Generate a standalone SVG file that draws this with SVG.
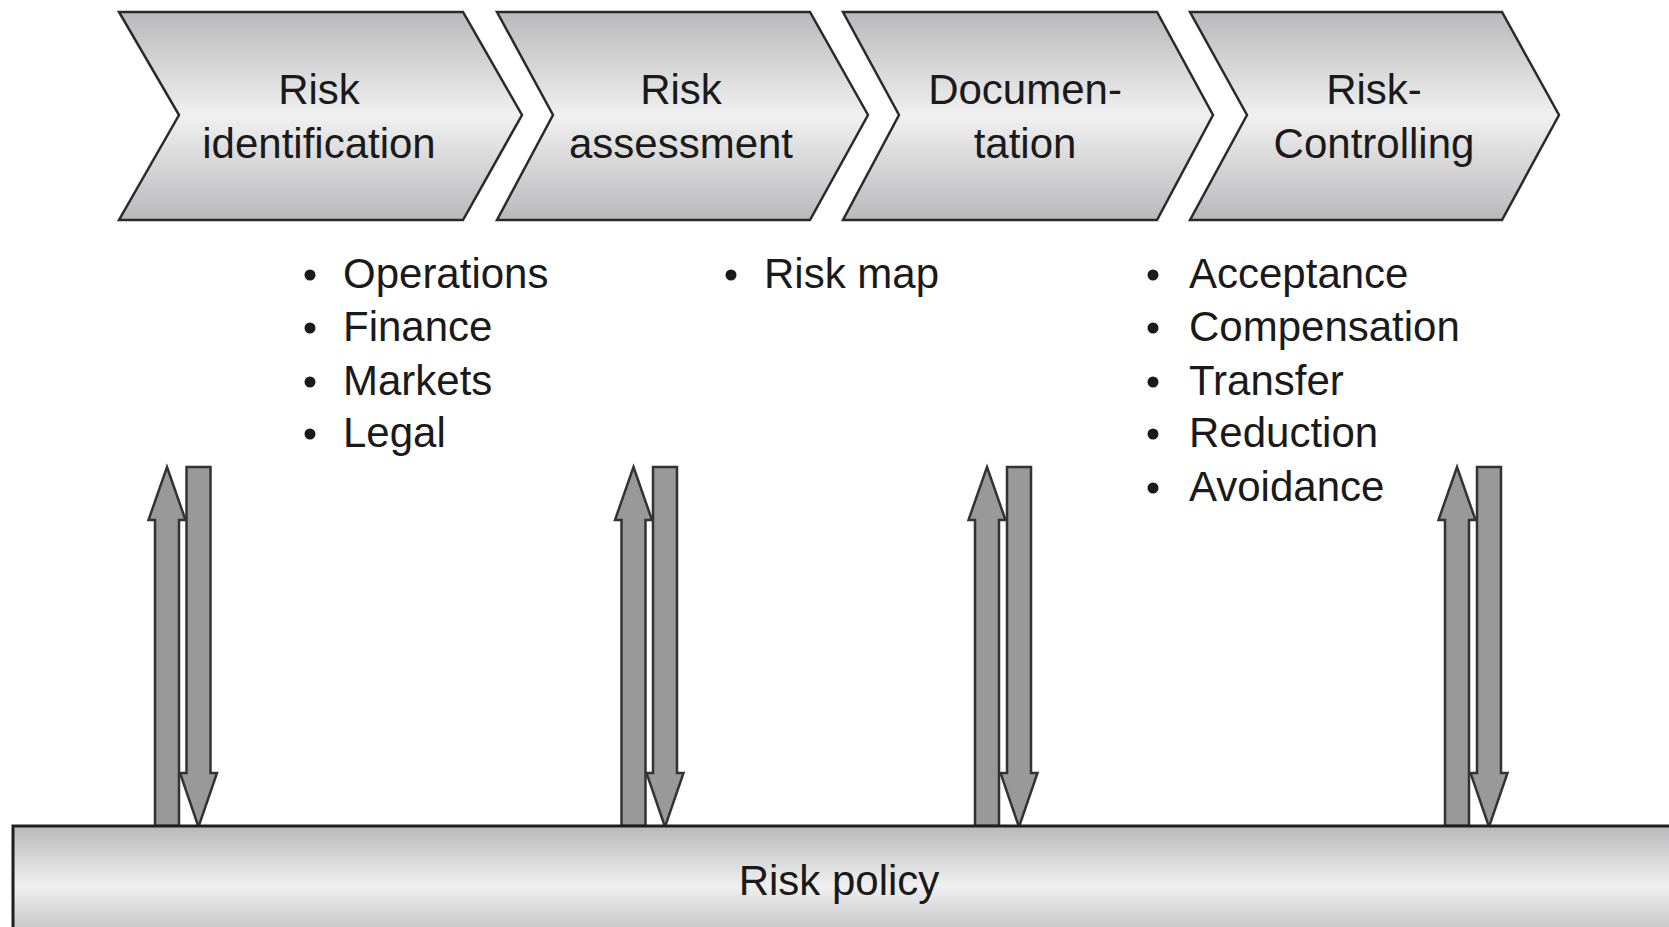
<svg xmlns="http://www.w3.org/2000/svg" xmlns:xlink="http://www.w3.org/1999/xlink" width="1669" height="927" viewBox="0 0 1669 927">
  <style>
    .chev { fill: url(#metal); stroke: #2a2a2a; stroke-width: 2.5; stroke-linejoin: miter; }
    .bar { fill: url(#metal); stroke: #1e1e1e; stroke-width: 3; }
    .lbl { font-family: "Liberation Sans", Arial, Helvetica, sans-serif; font-size: 42px; fill: #1a1a1a; text-anchor: middle; }
    .item { font-family: "Liberation Sans", Arial, Helvetica, sans-serif; font-size: 42px; fill: #1a1a1a; }
    .dot { fill: #1a1a1a; }
    .arr { fill: #999999; stroke: #333333; stroke-width: 2.5; stroke-linejoin: miter; }
  </style>
  <defs>
    <linearGradient id="metal" x1="0" y1="0" x2="0" y2="1">
      <stop offset="0" stop-color="#b9b9bb"/>
      <stop offset="0.5" stop-color="#f0f0f0"/>
      <stop offset="1" stop-color="#b9b9bb"/>
    </linearGradient>
    <polygon id="up" class="arr" points="0,467 18.5,520 12,520 12,826 -12,826 -12,520 -18.5,520"/>
    <polygon id="down" class="arr" points="-12,467 12,467 12,773 18.5,773 0,827 -18.5,773 -12,773"/>
  </defs>
  <rect width="1669" height="927" fill="#ffffff"/>

  <g id="risk-identification">
    <polygon class="chev" points="119,12 463,12 522,115 463,220 119,220 179,115"/>
    <text class="lbl" x="319" y="104">Risk</text>
    <text class="lbl" x="319" y="158">identification</text>
  </g>
  <g id="risk-assessment">
    <polygon class="chev" points="497,12 810,12 868,115 810,220 497,220 553,115"/>
    <text class="lbl" x="681" y="104">Risk</text>
    <text class="lbl" x="681" y="158">assessment</text>
  </g>
  <g id="documentation">
    <polygon class="chev" points="843,12 1157,12 1213,115 1157,220 843,220 899,115"/>
    <text class="lbl" x="1025" y="104">Documen-</text>
    <text class="lbl" x="1025" y="158">tation</text>
  </g>
  <g id="risk-controlling">
    <polygon class="chev" points="1190,12 1502,12 1559,115 1502,220 1190,220 1247,115"/>
    <text class="lbl" x="1374" y="104">Risk-</text>
    <text class="lbl" x="1374" y="158">Controlling</text>
  </g>

  <g id="identification-items">
    <circle class="dot" cx="310" cy="275" r="5.5"/>
    <text class="item" x="343" y="288">Operations</text>
    <circle class="dot" cx="310" cy="328" r="5.5"/>
    <text class="item" x="343" y="341">Finance</text>
    <circle class="dot" cx="310" cy="382" r="5.5"/>
    <text class="item" x="343" y="395">Markets</text>
    <circle class="dot" cx="310" cy="434" r="5.5"/>
    <text class="item" x="343" y="447">Legal</text>
  </g>
  <g id="assessment-items">
    <circle class="dot" cx="731" cy="275" r="5.5"/>
    <text class="item" x="764" y="288">Risk map</text>
  </g>
  <g id="controlling-items">
    <circle class="dot" cx="1153" cy="275" r="5.5"/>
    <text class="item" x="1189" y="288">Acceptance</text>
    <circle class="dot" cx="1153" cy="328" r="5.5"/>
    <text class="item" x="1189" y="341">Compensation</text>
    <circle class="dot" cx="1153" cy="382" r="5.5"/>
    <text class="item" x="1189" y="395">Transfer</text>
    <circle class="dot" cx="1153" cy="434" r="5.5"/>
    <text class="item" x="1189" y="447">Reduction</text>
    <circle class="dot" cx="1153" cy="488" r="5.5"/>
    <text class="item" x="1189" y="501">Avoidance</text>
  </g>

  <g id="connectors">
    <use xlink:href="#up" href="#up" transform="translate(167,0)"/>
    <use xlink:href="#down" href="#down" transform="translate(198.5,0)"/>
    <use xlink:href="#up" href="#up" transform="translate(633.5,0)"/>
    <use xlink:href="#down" href="#down" transform="translate(665,0)"/>
    <use xlink:href="#up" href="#up" transform="translate(987,0)"/>
    <use xlink:href="#down" href="#down" transform="translate(1019,0)"/>
    <use xlink:href="#up" href="#up" transform="translate(1457,0)"/>
    <use xlink:href="#down" href="#down" transform="translate(1489,0)"/>
  </g>

  <g id="risk-policy">
    <rect class="bar" x="13" y="826" width="1670" height="120"/>
    <text class="lbl" x="839" y="895">Risk policy</text>
  </g>
</svg>
